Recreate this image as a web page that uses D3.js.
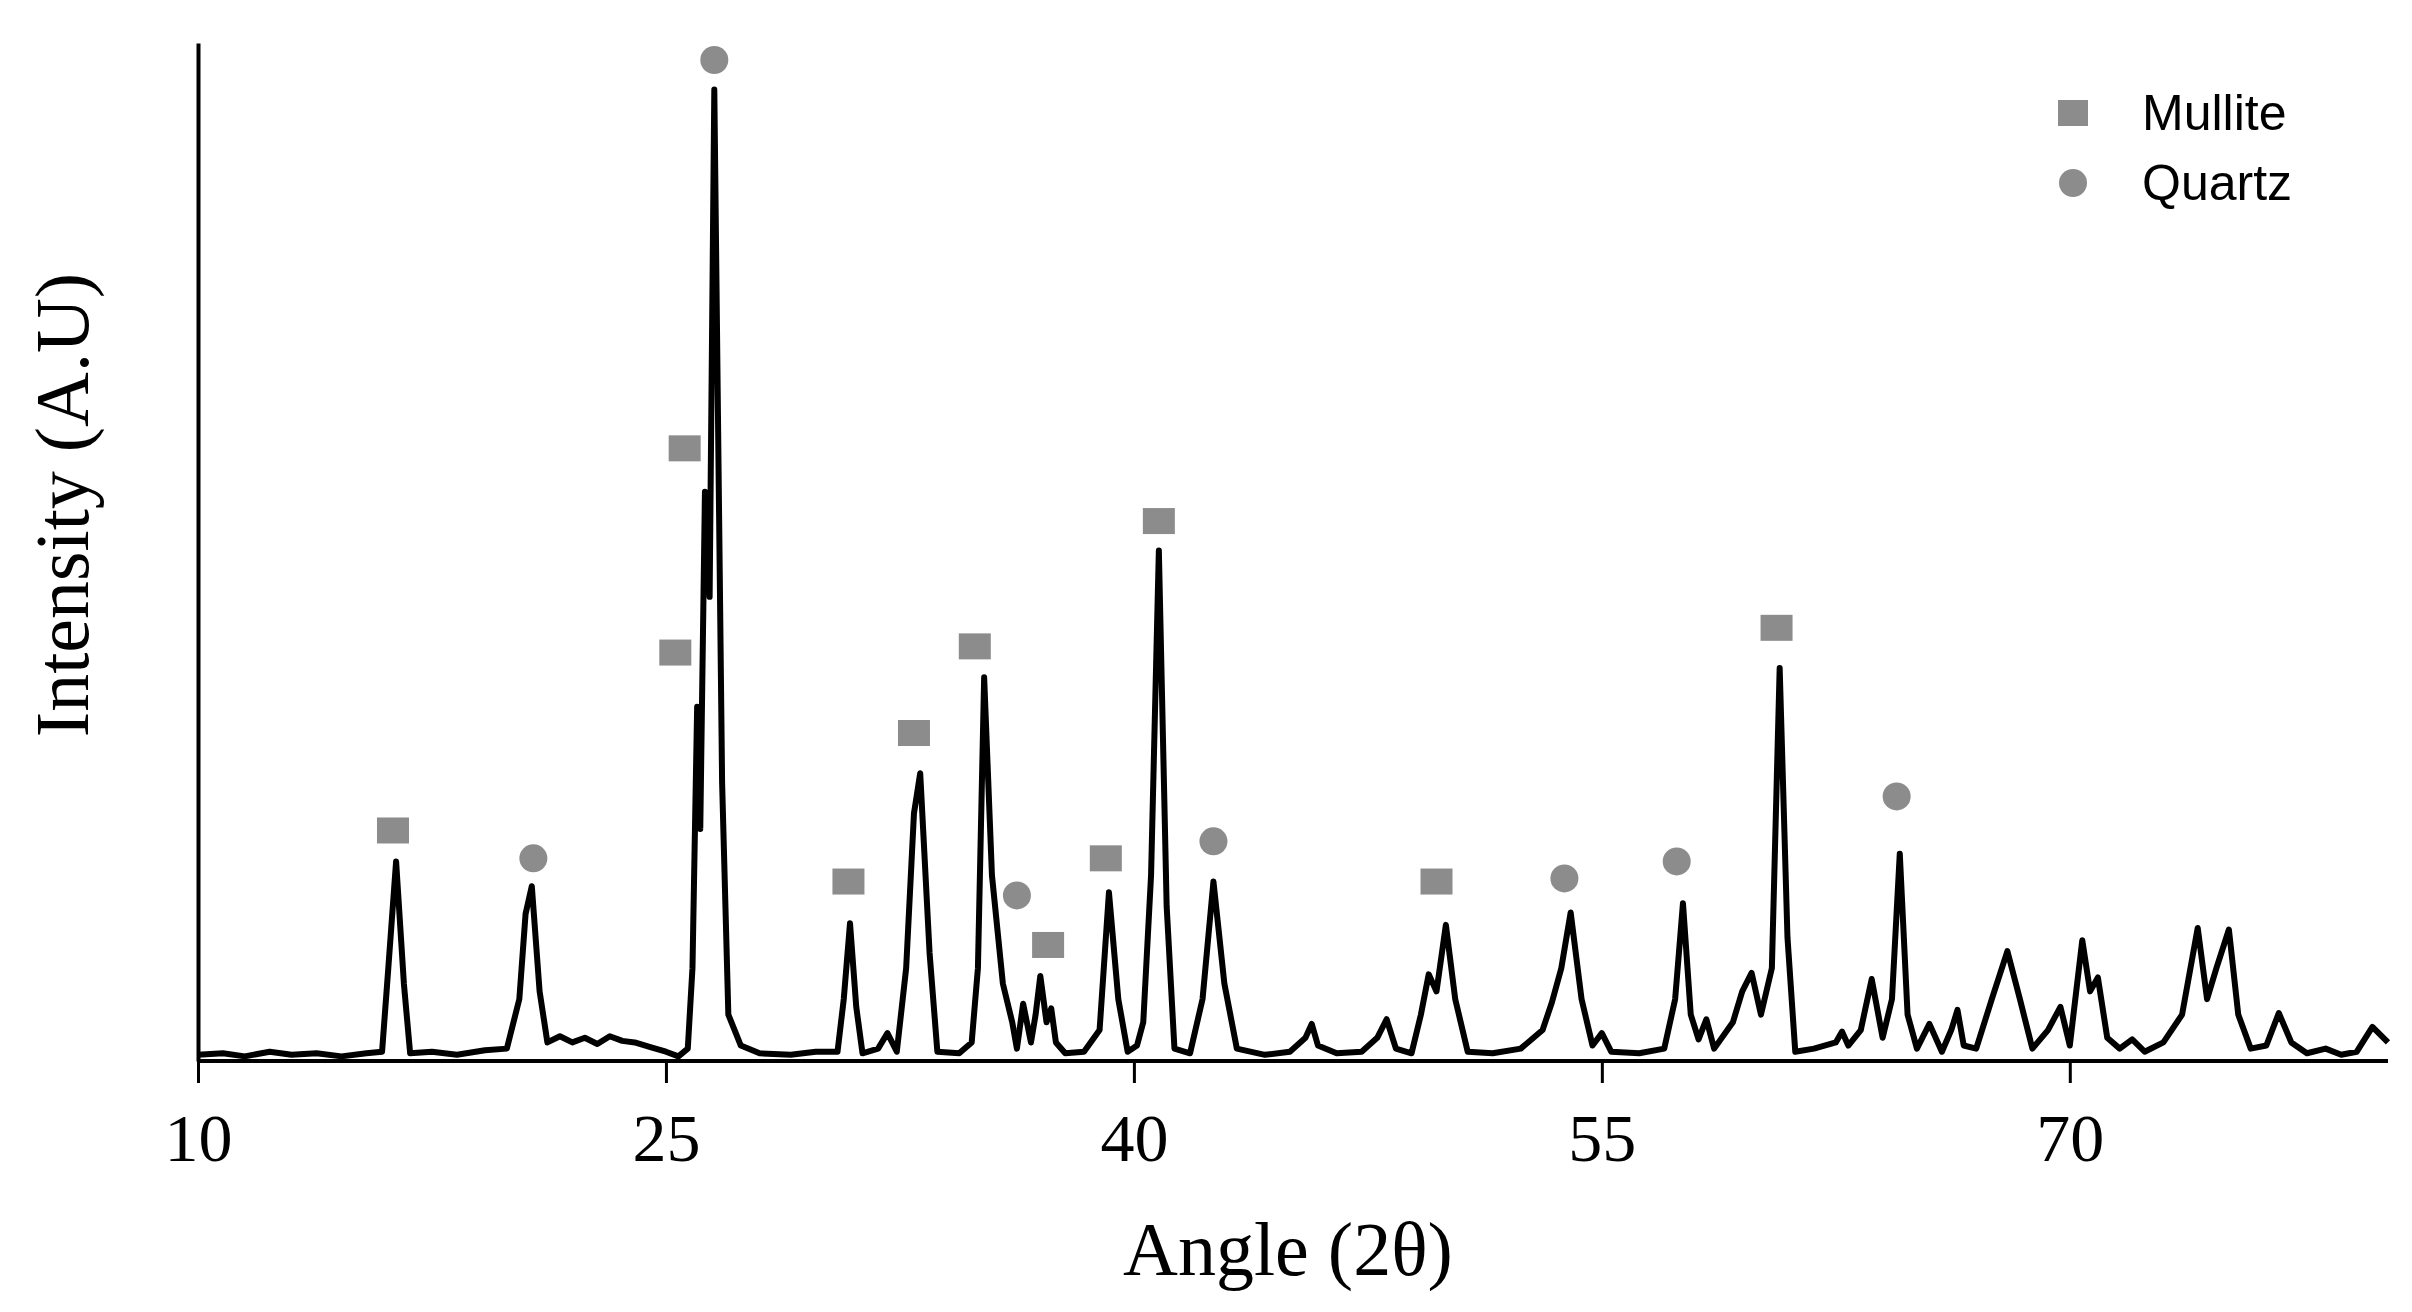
<!DOCTYPE html>
<html><head><meta charset="utf-8">
<script src="https://cdn.jsdelivr.net/npm/d3@7"></script>
<style>body{margin:0;background:#fff}</style></head>
<body><svg id="c" width="2412" height="1312"></svg>
<script>
// XRD pattern points [angle 2θ, intensity]
const pattern = [
[10,4],[10.8,5],[11.5,3],[12.3,6],[13,4],[13.8,5],[14.6,3],[15.4,5],[15.9,6],[16.1,60],[16.35,129],[16.6,50],[16.8,5],
[17.5,6],[18.3,4],[19.2,7],[19.9,8],[20.3,40],[20.5,95],[20.7,113],[20.95,45],[21.2,12],[21.6,16],[22.0,12],[22.4,15],
[22.8,11],[23.2,16],[23.6,13],[24.0,12],[24.5,9],[25.0,6],[25.4,3],[25.7,8],[25.85,60],[26.0,229],[26.1,150],[26.25,368],
[26.4,300],[26.55,628],[26.8,180],[27.0,30],[27.4,10],[28.0,5],[29.0,4],[29.8,6],[30.5,6],[30.7,40],[30.9,89],[31.1,35],
[31.3,5],[31.8,8],[32.1,18],[32.4,6],[32.7,60],[32.95,160],[33.15,186],[33.45,70],[33.7,6],[34.4,5],[34.8,12],[35.0,60],
[35.2,248],[35.45,120],[35.8,50],[36.1,25],[36.25,8],[36.45,37],[36.7,12],[36.85,30],[37.0,55],[37.2,25],[37.35,34],
[37.5,12],[37.8,5],[38.4,6],[38.9,20],[39.2,109],[39.5,40],[39.8,6],[40.1,10],[40.3,25],[40.55,120],[40.8,330],[41.05,100],
[41.3,8],[41.8,5],[42.2,40],[42.55,116],[42.9,50],[43.3,8],[44.2,4],[45.0,6],[45.5,15],[45.7,24],[45.9,10],[46.5,5],
[47.3,6],[47.8,15],[48.1,27],[48.4,8],[48.9,5],[49.2,30],[49.45,56],[49.7,45],[50.0,88],[50.3,40],[50.7,6],[51.5,5],
[52.4,8],[53.1,20],[53.4,38],[53.7,60],[54.0,96],[54.35,40],[54.7,10],[55.0,18],[55.3,6],[56.2,5],[57.0,8],[57.35,40],
[57.6,102],[57.85,30],[58.1,14],[58.35,27],[58.6,8],[59.2,25],[59.5,45],[59.8,57],[60.1,30],[60.45,60],[60.7,254],
[60.95,80],[61.2,6],[61.8,8],[62.5,12],[62.7,19],[62.9,10],[63.3,20],[63.65,53],[64.0,15],[64.3,40],[64.55,134],[64.8,30],
[65.1,8],[65.5,24],[65.9,6],[66.2,20],[66.4,33],[66.6,10],[67.0,8],[67.5,40],[68.0,71],[68.4,40],[68.8,8],[69.3,20],
[69.7,35],[70.0,10],[70.4,78],[70.65,45],[70.9,54],[71.2,15],[71.6,8],[72.0,14],[72.4,6],[73.0,12],[73.6,30],[74.1,86],
[74.4,40],[74.7,60],[75.1,85],[75.4,30],[75.8,8],[76.3,10],[76.7,31],[77.1,12],[77.6,5],[78.2,8],[78.7,4],[79.2,6],
[79.7,22],[80.2,12]];
const mulliteMarks = [[16.25,149],[25.6,396],[25.3,264],[30.85,116],[32.95,212],[34.9,268],[37.25,75],[39.1,131],[40.8,349],[49.7,116],[60.6,280]];
const quartzMarks = [[26.55,647],[20.75,131],[36.25,107],[42.55,142],[53.8,118],[57.4,129],[64.45,171]];
const xTicks = [10,25,40,55,70];
const legendItems = ["Mullite","Quartz"];

const svg = d3.select("#c");
const x = d3.scaleLinear().domain([10,80.2]).range([198,2388]);
const y = d3.scaleLinear().domain([0,658]).range([1061,43]);
const grey = "#8c8c8c";

svg.append("path").datum(pattern)
  .attr("d", d3.line().x(d=>x(d[0])).y(d=>y(d[1])))
  .attr("fill","none").attr("stroke","#000").attr("stroke-width",6).attr("stroke-linejoin","round");

const xa = svg.append("g").attr("transform","translate(0,1061)")
  .call(d3.axisBottom(x).tickValues(xTicks).tickSize(22).tickPadding(30).tickFormat(d3.format("d")));
xa.select(".domain").attr("stroke-width",4).attr("d","M198,0H2388");
xa.selectAll(".tick line").attr("stroke-width",3);
xa.selectAll("text").attr("font-family","Liberation Serif").attr("font-size",68).attr("fill","#000");

svg.append("g").attr("transform","translate(198,0)")
  .call(d3.axisLeft(y).tickValues([]).tickSizeOuter(0))
  .select(".domain").attr("stroke-width",4);

svg.selectAll("rect.m").data(mulliteMarks).join("rect")
  .attr("x",d=>x(d[0])-16).attr("y",d=>y(d[1])-13).attr("width",32).attr("height",26).attr("fill",grey);
svg.selectAll("circle.q").data(quartzMarks).join("circle")
  .attr("cx",d=>x(d[0])).attr("cy",d=>y(d[1])).attr("r",14).attr("fill",grey);

svg.append("text").attr("x",1288).attr("y",1275).attr("text-anchor","middle")
  .attr("font-family","Liberation Serif").attr("font-size",76).text("Angle (2θ)");
svg.append("text").attr("transform","translate(88,505) rotate(-90)").attr("text-anchor","middle")
  .attr("font-family","Liberation Serif").attr("font-size",76).text("Intensity (A.U)");

const lg = svg.append("g");
lg.append("rect").attr("x",2058).attr("y",100).attr("width",30).attr("height",26).attr("fill",grey);
lg.append("circle").attr("cx",2073).attr("cy",183).attr("r",14).attr("fill",grey);
lg.selectAll("text").data(legendItems).join("text")
  .attr("x",2142).attr("y",(d,i)=>130+i*70).attr("font-family","Liberation Sans").attr("font-size",50).text(d=>d);
</script></body></html>
